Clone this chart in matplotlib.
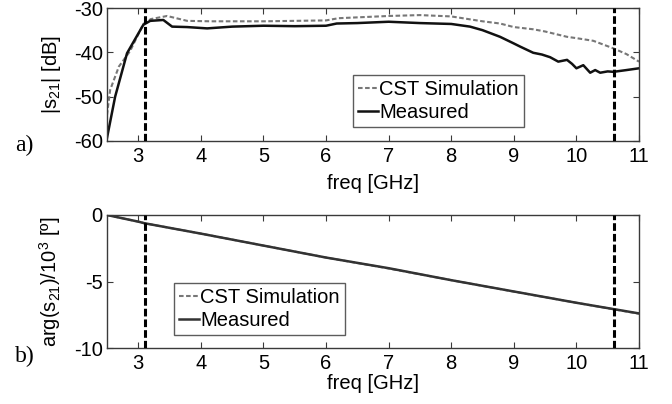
import matplotlib
matplotlib.use("Agg")
import matplotlib.pyplot as plt
import numpy as np

plt.rcParams['font.family'] = ['Liberation Sans', 'DejaVu Sans']
plt.rcParams['mathtext.fontset'] = 'custom'
plt.rcParams['mathtext.rm'] = 'Liberation Sans'
plt.rcParams['mathtext.it'] = 'Liberation Sans'
plt.rcParams['axes.unicode_minus'] = False

# |S21| data
f_meas = [2.5, 2.63, 2.82, 3.08, 3.19, 3.4, 3.54, 3.78, 4.1, 4.5, 5.0, 5.5, 6.0, 6.17, 6.5, 7.0,
          7.5, 8.0, 8.3, 8.5, 8.78, 9.0, 9.1, 9.31, 9.45, 9.58, 9.71, 9.85, 9.93, 10.0, 10.11,
          10.22, 10.3, 10.38, 10.5, 10.59, 10.8, 11.0]
s21_meas = [-59.3, -50.0, -40.2, -33.8, -32.9, -32.7, -34.2, -34.3, -34.6, -34.2, -34.0, -34.1, -34.0,
            -33.5, -33.4, -33.1, -33.4, -33.6, -34.2, -35.0, -36.5, -38.0, -38.7, -40.1, -40.5,
            -41.1, -42.1, -41.7, -42.6, -43.6, -42.9, -44.6, -44.0, -44.6, -44.3, -44.4, -44.0, -43.6]
f_sim = [2.5, 2.55, 2.69, 2.87, 3.08, 3.2, 3.46, 3.78, 4.15, 5.0, 6.0, 6.2, 7.0, 7.5, 8.0, 8.5,
         8.78, 9.0, 9.31, 9.5, 9.85, 10.0, 10.27, 10.59, 10.8, 11.0]
s21_sim = [-54.1, -48.5, -43.2, -39.7, -33.6, -32.5, -31.8, -32.9, -33.0, -33.0, -32.8, -32.3, -31.8,
           -31.6, -31.9, -33.0, -33.5, -34.3, -34.8, -35.3, -36.5, -36.8, -37.4, -39.1, -40.4, -42.1]

# arg(S21)/1e3 data
f_ph = [2.5, 3.0, 3.1, 4.0, 5.0, 6.0, 7.0, 8.0, 9.0, 10.0, 11.0]
ph_meas = [0.0, -0.5, -0.62, -1.4, -2.3, -3.2, -4.0, -4.9, -5.75, -6.6, -7.4]
ph_sim = [0.0, -0.5, -0.62, -1.4, -2.3, -3.2, -4.02, -4.9, -5.76, -6.6, -7.42]

band_edges = [3.1, 10.6]
xticks = [3, 4, 5, 6, 7, 8, 9, 10, 11]

FS = 14.5
fig = plt.figure(figsize=(6.72, 4.04), dpi=100)
ax1 = fig.add_axes([107/672, 1-141/404, 532/672, 133/404])
ax2 = fig.add_axes([107/672, 1-348/404, 532/672, 133/404])

spine_c = '#3a3a3a'
for ax in (ax1, ax2):
    for s in ax.spines.values():
        s.set_color(spine_c)
        s.set_linewidth(1.0)
    ax.tick_params(direction='in', top=True, right=True, labelsize=FS, length=4,
                   color=spine_c)
    ax.tick_params(axis='x', pad=4)
    ax.tick_params(axis='y', pad=3)
    ax.set_xlim(2.5, 11)
    ax.set_xticks(xticks)
    for x in band_edges:
        ax.axvline(x, color='black', ls=(0, (2.5, 1.0)), lw=2.2, zorder=3)
    ax.yaxis.set_label_coords(-(107-63)/532, 0.5)

ax1.set_xlabel('freq [GHz]', fontsize=FS, labelpad=6)
ax2.set_xlabel('freq [GHz]', fontsize=FS, labelpad=1)

ax1.plot(f_sim, s21_sim, color='#777777', ls=(0, (2.2, 1.2)), lw=1.5, label='CST Simulation')
ax1.plot(f_meas, s21_meas, color='#111111', lw=1.8, label='Measured')
ax1.set_ylim(-60, -30)
ax1.set_yticks([-60, -50, -40, -30])
ax1.set_ylabel('|s$_{21}$| [dB]', fontsize=FS)
leg_kw = dict(loc='upper left', fontsize=FS, frameon=True, fancybox=False, edgecolor='#333333',
              handlelength=1.0, handletextpad=0.05, borderpad=0.25, labelspacing=0.2,
              borderaxespad=0)
leg1 = ax1.legend(bbox_to_anchor=((353-107)/532, 1-(75-8)/133), **leg_kw)
leg1.get_frame().set_linewidth(1.0)

ax2.plot(f_ph, ph_sim, color='#777777', ls=(0, (2.2, 1.2)), lw=1.5, label='CST Simulation')
ax2.plot(f_ph, ph_meas, color='#333333', lw=1.8, label='Measured')
ax2.set_ylim(-10, 0)
ax2.set_yticks([-10, -5, 0])
ax2.set_ylabel('arg(s$_{21}$)/10$^{3}$ [º]', fontsize=FS)
leg2 = ax2.legend(bbox_to_anchor=((174-107)/532, 1-(283-215)/133), **leg_kw)
leg2.get_frame().set_linewidth(1.0)

fig.text(15/672, 1-145/404, 'a)', fontsize=17, family='Liberation Serif', va='center', ha='left')
fig.text(15/672, 1-356/404, 'b)', fontsize=17, family='Liberation Serif', va='center', ha='left')

fig.savefig('out.png', dpi=100)
